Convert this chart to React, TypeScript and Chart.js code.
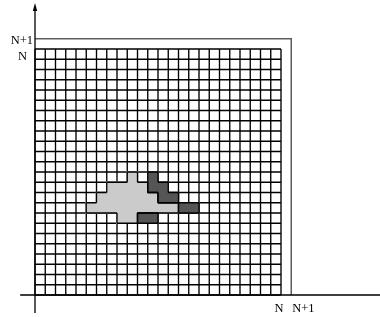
import React, { useEffect, useRef } from "react";
import { Chart, registerables } from "chart.js";

Chart.register(...registerables);

// Grid size: N x N cells, enclosed by an (N+1) square
const N = 24;
const xTickLabels = ["N", "N+1"];
const yTickLabels = ["N+1", "N"];

// cells as [column, row] counted from the origin (bottom-left)
const lightCells: [number, number][] = [
  [9, 11],
  [7, 10], [8, 10], [9, 10], [10, 10],
  [6, 9], [7, 9], [8, 9], [9, 9], [10, 9], [11, 9],
  [5, 8], [6, 8], [7, 8], [8, 8], [9, 8], [10, 8], [11, 8], [12, 8], [13, 8],
  [8, 7], [9, 7],
];
const darkCells: [number, number][] = [
  [11, 11],
  [11, 10], [12, 10],
  [12, 9], [13, 9],
  [14, 8], [15, 8],
  [10, 7], [11, 7],
];

const LIGHT = "#cbcbcb";
const DARK = "#555555";
const FONT = "12.5px 'Liberation Serif', 'DejaVu Serif', serif";

const latticePlugin = {
  id: "lattice",
  afterDraw(chart: any) {
    const ctx: CanvasRenderingContext2D = chart.ctx;
    const xs = chart.scales.x;
    const ys = chart.scales.y;
    const px = (v: number) => xs.getPixelForValue(v);
    const py = (v: number) => ys.getPixelForValue(v);
    const area = chart.chartArea;
    ctx.save();

    // grid lines
    ctx.strokeStyle = "#000";
    ctx.lineWidth = 1.35;
    ctx.beginPath();
    for (let i = 0; i <= N; i++) {
      ctx.moveTo(px(i), py(0));
      ctx.lineTo(px(i), py(N));
      ctx.moveTo(px(0), py(i));
      ctx.lineTo(px(N), py(i));
    }
    ctx.stroke();

    // cells
    const drawSet = (cells: [number, number][], color: string) => {
      ctx.fillStyle = color;
      for (const [c, r] of cells) {
        const x0 = px(c), x1 = px(c + 1);
        const y0 = py(r + 1), y1 = py(r);
        ctx.fillRect(x0 - 0.7, y0 - 0.7, x1 - x0 + 1.4, y1 - y0 + 1.4);
      }
    };
    drawSet(lightCells, LIGHT);
    drawSet(darkCells, DARK);

    const outline = (cells: [number, number][]) => {
      const keys = new Set(cells.map(([c, r]) => c + "," + r));
      ctx.strokeStyle = "#000";
      ctx.lineWidth = 1.3;
      ctx.beginPath();
      for (const [c, r] of cells) {
        const x0 = px(c), x1 = px(c + 1);
        const yT = py(r + 1), yB = py(r);
        if (!keys.has(c - 1 + "," + r)) { ctx.moveTo(x0, yT); ctx.lineTo(x0, yB); }
        if (!keys.has(c + 1 + "," + r)) { ctx.moveTo(x1, yT); ctx.lineTo(x1, yB); }
        if (!keys.has(c + "," + (r + 1))) { ctx.moveTo(x0, yT); ctx.lineTo(x1, yT); }
        if (!keys.has(c + "," + (r - 1))) { ctx.moveTo(x0, yB); ctx.lineTo(x1, yB); }
      }
      ctx.stroke();
    };
    outline(lightCells);
    outline(darkCells);

    // outer (N+1) square
    ctx.strokeStyle = "#5e5e5e";
    ctx.lineWidth = 1.5;
    ctx.beginPath();
    ctx.moveTo(px(0), py(N + 1));
    ctx.lineTo(px(N + 1), py(N + 1));
    ctx.lineTo(px(N + 1), py(0));
    ctx.stroke();

    // axes
    ctx.strokeStyle = "#000";
    ctx.lineWidth = 1.3;
    ctx.beginPath();
    ctx.moveTo(px(-1.45), py(0));
    ctx.lineTo(area.right, py(0));
    ctx.moveTo(px(0), py(-1.75));
    ctx.lineTo(px(0), py(28.1));
    ctx.stroke();
    // arrow head
    const ax = px(0), ay = py(28.5);
    ctx.fillStyle = "#000";
    ctx.beginPath();
    ctx.moveTo(ax, ay);
    ctx.lineTo(ax - 2.2, ay + 8);
    ctx.lineTo(ax + 2.2, ay + 8);
    ctx.closePath();
    ctx.fill();

    // labels
    ctx.font = FONT;
    ctx.fillStyle = "#000";
    ctx.textBaseline = "alphabetic";
    // x axis
    ctx.textAlign = "center";
    ctx.fillText(xTickLabels[0], px(N) - 2, py(0) + 17);
    ctx.textAlign = "left";
    ctx.fillText(xTickLabels[1], px(N + 1) + 1, py(0) + 17);
    // y axis
    ctx.textAlign = "right";
    ctx.fillText(yTickLabels[0], px(0) - 2, py(N + 1) + 5.5);
    ctx.fillText(yTickLabels[1], px(0) - 8, py(N) + 10.5);

    ctx.restore();
  },
};

export default function App() {
  const ref = useRef<HTMLCanvasElement | null>(null);
  useEffect(() => {
    if (!ref.current) return;
    const unit = 10.25;
    const chart = new Chart(ref.current, {
      type: "scatter",
      data: {
        datasets: [
          {
            label: "light",
            data: lightCells.map(([c, r]) => ({ x: c + 0.5, y: r + 0.5 })),
            pointRadius: 0,
          },
          {
            label: "dark",
            data: darkCells.map(([c, r]) => ({ x: c + 0.5, y: r + 0.5 })),
            pointRadius: 0,
          },
        ],
      },
      options: {
        animation: false,
        responsive: false,
        layout: { padding: 0 },
        plugins: { legend: { display: false }, tooltip: { enabled: false } },
        events: [],
        scales: {
          x: { type: "linear", display: false, min: -35 / unit, max: 345 / unit },
          y: { type: "linear", display: false, min: -22 / unit, max: 295 / unit },
        },
      },
      plugins: [latticePlugin],
    });
    return () => chart.destroy();
  }, []);
  return (
    <div style={{ position: "fixed", left: 0, top: 0, width: 380, height: 317, background: "#fff" }}>
      <canvas ref={ref} width={380} height={317} style={{ display: "block" }} />
    </div>
  );
}
